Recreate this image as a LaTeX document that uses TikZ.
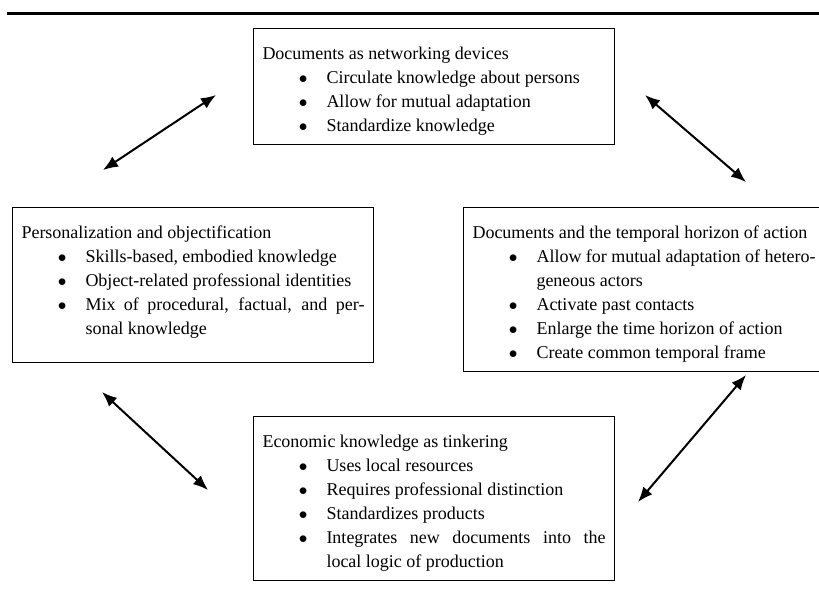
\documentclass[tikz,border=0pt]{standalone}
\usepackage{fontspec}
\setmainfont{Liberation Serif}
\usepackage{tikz}
\usetikzlibrary{arrows.meta}

\newenvironment{dotlist}{%
  \begin{list}{$\bullet$}{%
    \setlength{\leftmargin}{64pt}\setlength{\labelsep}{19pt}%
    \setlength{\labelwidth}{20pt}\setlength{\topsep}{0pt}%
    \setlength{\partopsep}{0pt}\setlength{\parsep}{0pt}%
    \setlength{\itemsep}{0pt}}}{\end{list}}

\begin{document}
\begin{tikzpicture}[
        x=1pt, y=-1pt,
        block/.style={draw, rectangle, line width=1pt, anchor=north west, text width=343pt,
            inner xsep=9pt, inner ysep=9pt, align=justify,
            font=\fontsize{18}{24}\selectfont,
            execute at begin node=\rule{0pt}{22pt}},
        link/.style={{Latex[length=15pt,width=12pt]}-{Latex[length=15pt,width=12pt]}, line width=2pt}
    ]
    \clip (0,0) rectangle (819,592);

    % Rule at the top
    \coordinate (rulel) at (7,13);
    \coordinate (ruler) at (819,13);
    \draw[line width=3pt] (rulel) -- (ruler);

    % Networking block
    \node[block] (network) at (253,28) {Documents as networking devices
        \begin{dotlist}
        \item Circulate knowledge about persons
        \item Allow for mutual adaptation
        \item Standardize knowledge
        \end{dotlist}};

    % Personalization block
    \node[block, text depth=115pt] (person) at (12,207) {Personalization and objectification
        \begin{dotlist}
        \item Skills-based, embodied knowledge
        \item Object-related professional identities
        \item Mix of procedural, factual, and per-\linebreak sonal knowledge
        \end{dotlist}};

    % Temporal block
    \node[block] (temporal) at (463,207) {Documents and the temporal horizon of action
        \begin{dotlist}
        \item Allow for mutual adaptation of hetero-\linebreak geneous actors
        \item Activate past contacts
        \item Enlarge the time horizon of action
        \item Create common temporal frame
        \end{dotlist}};

    % Tinkering block
    \node[block] (tinker) at (253,416) {Economic knowledge as tinkering
        \begin{dotlist}
        \item Uses local resources
        \item Requires professional distinction
        \item Standardizes products
        \item Integrates new documents into the\linebreak local logic of production
        \end{dotlist}};

    % Arrow ends
    \coordinate (tla) at (103,170);
    \coordinate (tlb) at (216,95);
    \coordinate (tra) at (645,95);
    \coordinate (trb) at (746,182);
    \coordinate (bla) at (102,392);
    \coordinate (blb) at (208,490);
    \coordinate (bra) at (638,502);
    \coordinate (brb) at (746,375);

    \draw[link] (tla) -- (tlb);
    \draw[link] (tra) -- (trb);
    \draw[link] (bla) -- (blb);
    \draw[link] (bra) -- (brb);

\end{tikzpicture}
\end{document}
